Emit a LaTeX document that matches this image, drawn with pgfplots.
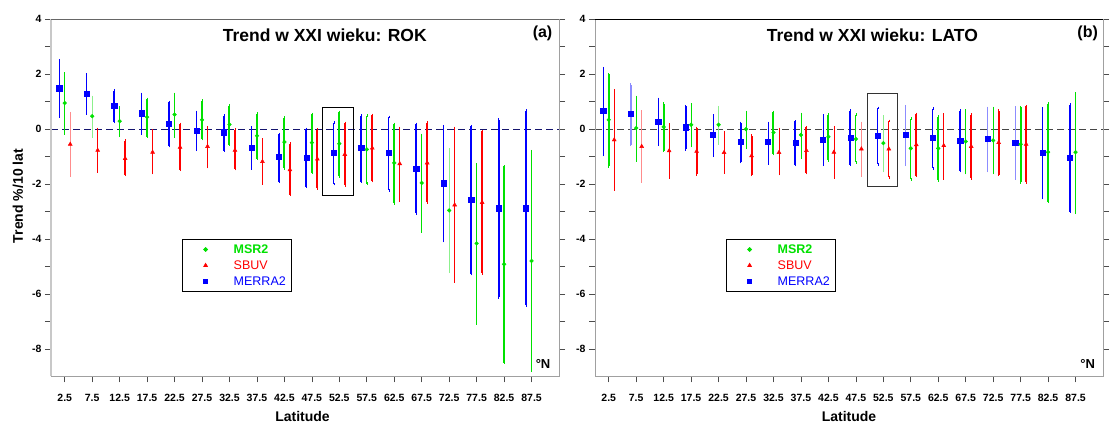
\documentclass[border=0pt]{standalone}
\usepackage{fontspec}
\setmainfont{Liberation Sans}
\usepackage{pgfplots}
\usepackage{pgfplotstable}
\pgfplotsset{compat=1.18}

\definecolor{cgreen}{RGB}{0,225,0}
\definecolor{cred}{RGB}{255,0,0}
\definecolor{cblue}{RGB}{0,0,255}
\definecolor{lgreen}{RGB}{140,240,140}
\definecolor{lred}{RGB}{255,140,140}
\definecolor{lblue}{RGB}{140,140,255}
\definecolor{spinegray}{RGB}{160,160,160}
\definecolor{lspine}{RGB}{200,200,200}
\definecolor{zeronavy}{RGB}{20,20,110}
\definecolor{zerogray}{RGB}{70,70,70}

% s: 1 thin, 2 thick, 3 light thin, 4 light thick
\pgfplotstableread{
lat y lo hi s
2.5 1.49 0.46 2.49 1
7.5 1.30 0.58 1.98 1
12.5 0.85 0.26 1.40 2
17.5 0.58 -0.15 1.28 1
22.5 0.21 -0.61 0.98 2
27.5 -0.05 -0.75 0.62 1
32.5 -0.11 -0.78 0.49 2
37.5 -0.67 -1.42 0.05 1
42.5 -1.01 -1.91 -0.18 2
47.5 -1.03 -2.09 0.00 2
52.5 -0.87 -2.00 0.24 1
57.5 -0.69 -1.91 0.49 2
62.5 -0.87 -2.23 0.44 1
67.5 -1.45 -3.06 0.19 2
72.5 -1.97 -4.07 0.10 1
77.5 -2.57 -5.27 0.10 2
82.5 -2.88 -6.12 0.34 2
87.5 -2.88 -6.42 0.67 2
}\rokBlue
\pgfplotstableread{
lat y lo hi s
2.5 0.95 -0.15 2.02 1
7.5 0.47 -0.27 1.17 3
12.5 0.29 -0.24 0.78 1
17.5 0.44 -0.27 1.10 2
22.5 0.53 -0.27 1.28 1
27.5 0.34 -0.36 1.03 2
32.5 0.17 -0.57 0.85 2
37.5 -0.24 -1.07 0.56 2
42.5 -0.47 -1.42 0.41 2
47.5 -0.49 -1.58 0.55 2
52.5 -0.53 -1.72 0.62 2
57.5 -0.74 -1.99 0.49 1
62.5 -1.23 -2.70 0.19 2
67.5 -1.96 -3.73 -0.21 1
72.5 -2.96 -5.19 -0.75 3
77.5 -4.16 -7.07 -1.28 1
82.5 -4.92 -8.50 -1.36 2
87.5 -4.80 -8.80 -0.81 1
}\rokGreen
\pgfplotstableread{
lat y lo hi s
2.5 -0.55 -1.69 0.58 3
7.5 -0.77 -1.54 0.00 1
12.5 -1.07 -1.66 -0.42 2
17.5 -0.84 -1.60 -0.06 1
22.5 -0.66 -1.48 0.19 2
27.5 -0.63 -1.38 0.07 1
32.5 -0.77 -1.45 -0.02 2
37.5 -1.18 -1.97 -0.39 1
42.5 -1.48 -2.39 -0.53 2
47.5 -1.09 -2.15 -0.02 2
52.5 -0.92 -2.05 0.22 2
57.5 -0.69 -1.89 0.51 2
62.5 -1.26 -2.61 0.04 1
67.5 -1.23 -2.67 0.24 2
72.5 -2.76 -5.55 0.04 1
77.5 -2.67 -5.25 -0.08 2
}\rokRed
\pgfplotstableread{
lat y lo hi s
2.5 0.67 -0.94 2.22 1
7.5 0.56 -0.57 1.62 4
12.5 0.28 -0.57 1.10 1
17.5 0.07 -0.73 0.83 2
22.5 -0.21 -0.97 0.49 1
27.5 -0.47 -1.20 0.22 2
32.5 -0.47 -1.24 0.22 1
37.5 -0.49 -1.30 0.28 2
42.5 -0.39 -1.30 0.49 1
47.5 -0.30 -1.30 0.67 2
52.5 -0.24 -1.28 0.77 1
57.5 -0.21 -1.30 0.83 3
62.5 -0.30 -1.42 0.74 1
67.5 -0.41 -1.52 0.67 2
72.5 -0.35 -1.52 0.77 3
77.5 -0.49 -1.79 0.79 3
82.5 -0.87 -2.51 0.74 1
87.5 -1.03 -3.00 0.89 2
}\latoBlue
\pgfplotstableread{
lat y lo hi s
2.5 0.34 -1.36 2.00 2
7.5 0.04 -1.14 1.17 1
12.5 0.08 -0.79 0.92 2
17.5 0.16 -0.61 0.89 1
22.5 0.16 -0.51 0.80 3
27.5 0.00 -0.69 0.62 1
32.5 -0.12 -0.90 0.62 2
37.5 -0.21 -1.02 0.55 1
42.5 -0.28 -1.14 0.52 2
47.5 -0.36 -1.21 0.52 1
52.5 -0.51 -1.52 0.46 3
57.5 -0.70 -1.82 0.38 1
62.5 -0.70 -1.87 0.46 2
67.5 -0.45 -1.60 0.67 1
72.5 -0.41 -1.60 0.77 1
77.5 -0.55 -1.94 0.80 2
82.5 -0.84 -2.64 0.92 2
87.5 -0.84 -3.04 1.29 1
}\latoGreen
\pgfplotstableread{
lat y lo hi s
2.5 -0.39 -2.19 1.41 1
7.5 -0.63 -1.91 0.64 4
12.5 -0.79 -1.76 0.16 1
17.5 -0.81 -1.64 0.04 2
22.5 -0.85 -1.58 -0.11 1
27.5 -0.97 -1.66 -0.24 2
32.5 -0.85 -1.63 0.00 1
37.5 -0.78 -1.60 0.07 2
42.5 -0.84 -1.75 0.07 1
47.5 -0.72 -1.70 0.22 3
52.5 -0.72 -1.75 0.30 1
57.5 -0.57 -1.69 0.55 2
62.5 -0.60 -1.79 0.52 1
67.5 -0.63 -1.79 0.52 2
72.5 -0.49 -1.66 0.67 2
77.5 -0.55 -1.93 0.83 2
}\latoRed

\pgfplotsset{
  mkblue/.style={mark=square*, mark size=2.6pt, color=cblue},
  mkgreen/.style={mark=*, mark size=1.9pt, color=cgreen},
  mkred/.style={mark=triangle*, mark size=2.3pt, color=cred},
}
% #1 table, #2 x offset, #3 style code, #4 bar colour, #5 bar width, #6 mark style
\newcommand{\grp}[6]{%
\addplot[forget plot, only marks, #6,
  restrict expr to domain={\thisrow{s}}{#3:#3},
  error bars/.cd, y dir=both, y explicit,
  error bar style={color=#4, line width=#5},
  error mark options={color=#4, line width=0.5pt, mark size=1.4pt}]
  table[x expr=\thisrow{lat}+#2, y=y,
        y error plus expr=\thisrow{hi}-\thisrow{y},
        y error minus expr=\thisrow{y}-\thisrow{lo}] {#1};}

\pgfplotsset{panel/.style={
  scale only axis, width=508pt, height=357pt,
  xmin=0, xmax=92.5, ymin=-9, ymax=4, clip=false,
  xtick={2.5,7.5,...,87.5}, ytick={-8,-6,...,4}, minor ytick={-7,-5,...,3},
  xtick pos=left, ytick pos=both, yticklabel pos=left,
  tick align=outside, major tick length=6pt, minor tick length=6pt,
  tick style={color=black!70, line width=0.6pt},
  axis line style={draw=none},
  /pgf/number format/assume math mode=true,
  /pgf/number format/fixed,
  tick label style={font=\bfseries\fontsize{10.5}{12}\selectfont},
  xticklabel style={yshift=-8pt},
  legend style={at={(0.2573,0.3846)}, anchor=north west, draw=black, line width=0.8pt,
    font=\fontsize{12.5}{15}\selectfont, inner xsep=6pt, inner ysep=5pt,
    row sep=5.8pt, nodes={inner sep=0pt},
    /tikz/every odd column/.append style={column sep=11.6pt}},
  legend cell align=left,
  legend image code/.code={\path[draw=none] (0pt,0pt) -- (34pt,0pt);
     \path[#1, draw=none] plot[only marks] coordinates {(17.5pt,0pt)};},
}}

\begin{document}
\begin{tikzpicture}
\useasboundingbox (0pt,0pt) rectangle (1120pt,423pt);
%%%%%%%%%%%%%%%% panel (a)
\begin{axis}[panel, at={(51pt,46.7pt)}, anchor=south west]
\addplot[forget plot, color=zeronavy, line width=1pt, dash pattern=on 7pt off 4pt] coordinates {(0,0) (92.5,0)};
\grp{\rokBlue}{-1}{1}{cblue}{0.8pt}{mkblue}
\grp{\rokBlue}{-1}{2}{cblue}{2pt}{mkblue}
\grp{\rokGreen}{0}{1}{cgreen}{0.8pt}{mkgreen}
\grp{\rokGreen}{0}{2}{cgreen}{2pt}{mkgreen}
\grp{\rokGreen}{0}{3}{lgreen}{0.8pt}{mkgreen}
\grp{\rokRed}{1}{1}{cred}{0.8pt}{mkred}
\grp{\rokRed}{1}{2}{cred}{2pt}{mkred}
\grp{\rokRed}{1}{3}{lred}{0.8pt}{mkred}
\addlegendimage{mark=*, mark size=1.9pt, color=cgreen}
\addlegendentry{\textcolor{cgreen}{\bfseries MSR2}}
\addlegendimage{mark=triangle*, mark size=2.1pt, color=cred}
\addlegendentry{\textcolor{cred}{SBUV}}
\addlegendimage{mark=square*, mark size=2.2pt, color=cblue}
\addlegendentry{\textcolor{cblue}{MERRA2}}
\draw[black, line width=0.8pt] (axis cs:49.5,0.8) rectangle (axis cs:55,-2.42);
\draw[lspine, line width=2pt] (rel axis cs:0,0) -- (rel axis cs:0,1);
\draw[spinegray, line width=1pt] (rel axis cs:0,0) -- (rel axis cs:1,0) -- (rel axis cs:1,1);
\draw[black!60, line width=0.8pt] (rel axis cs:0,1) -- (rel axis cs:1,1);
\node[font=\bfseries\fontsize{17.5}{20}\selectfont] at (axis cs:49.85,3.43) {Trend w XXI wieku: ROK};
\node[font=\bfseries\fontsize{16}{18}\selectfont] at (axis cs:89.5,3.5) {(a)};
\node[font=\bfseries\fontsize{13}{15}\selectfont] at (axis cs:89.6,-8.55) {°N};
\end{axis}
%%%%%%%%%%%%%%%% panel (b)
\begin{axis}[panel, at={(595pt,46.7pt)}, anchor=south west]
\addplot[forget plot, color=zerogray, line width=1pt, dash pattern=on 7pt off 4pt] coordinates {(0,0) (92.5,0)};
\grp{\latoBlue}{-1}{1}{cblue}{0.8pt}{mkblue}
\grp{\latoBlue}{-1}{2}{cblue}{2pt}{mkblue}
\grp{\latoBlue}{-1}{3}{lblue}{0.8pt}{mkblue}
\grp{\latoBlue}{-1}{4}{lblue}{1.6pt}{mkblue}
\grp{\latoGreen}{0}{1}{cgreen}{0.8pt}{mkgreen}
\grp{\latoGreen}{0}{2}{cgreen}{2pt}{mkgreen}
\grp{\latoGreen}{0}{3}{lgreen}{0.8pt}{mkgreen}
\grp{\latoRed}{1}{1}{cred}{0.8pt}{mkred}
\grp{\latoRed}{1}{2}{cred}{2pt}{mkred}
\grp{\latoRed}{1}{3}{lred}{0.8pt}{mkred}
\grp{\latoRed}{1}{4}{lred}{1.6pt}{mkred}
\addlegendimage{mark=*, mark size=1.9pt, color=cgreen}
\addlegendentry{\textcolor{cgreen}{\bfseries MSR2}}
\addlegendimage{mark=triangle*, mark size=2.1pt, color=cred}
\addlegendentry{\textcolor{cred}{SBUV}}
\addlegendimage{mark=square*, mark size=2.2pt, color=cblue}
\addlegendentry{\textcolor{cblue}{MERRA2}}
\draw[black!80, line width=0.8pt] (axis cs:49.6,1.3) rectangle (axis cs:55,-2.07);
\draw[spinegray, line width=1pt] (rel axis cs:0,1) -- (rel axis cs:0,0) -- (rel axis cs:1,0) -- (rel axis cs:1,1);
\draw[black, line width=0.8pt] (rel axis cs:0,1) -- (rel axis cs:1,1);
\node[font=\bfseries\fontsize{17.5}{20}\selectfont] at (axis cs:50.5,3.43) {Trend w XXI wieku: LATO};
\node[font=\bfseries\fontsize{16}{18}\selectfont] at (axis cs:89.7,3.5) {(b)};
\node[font=\bfseries\fontsize{13}{15}\selectfont] at (axis cs:89.7,-8.55) {°N};
\end{axis}
%%%%%%%%%%%%%%%% outer labels
\node[rotate=90, font=\bfseries\fontsize{14}{16}\selectfont] at (18pt,227pt) {Trend \%/10 lat};
\node[font=\bfseries\fontsize{14}{16}\selectfont] at (302.5pt,7pt) {Latitude};
\node[font=\bfseries\fontsize{14}{16}\selectfont] at (849pt,7pt) {Latitude};
\end{tikzpicture}
\end{document}
